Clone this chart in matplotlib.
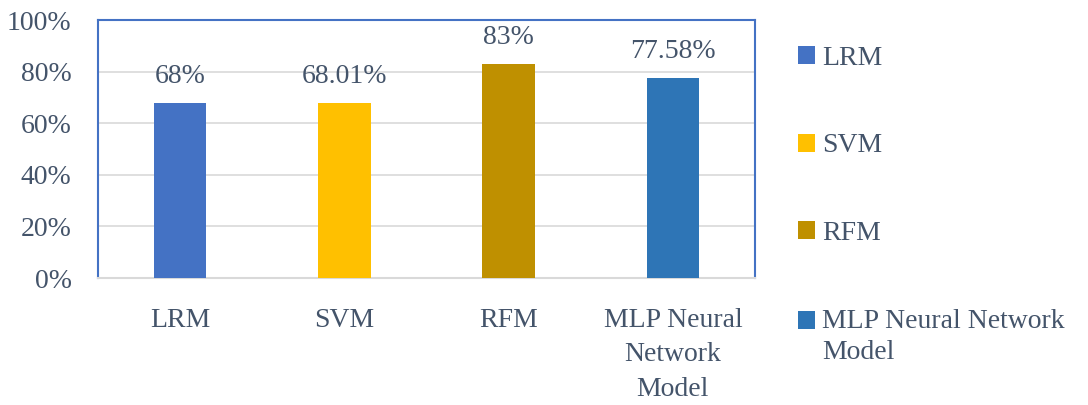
import matplotlib.pyplot as plt
from matplotlib.patches import Patch, Rectangle
from matplotlib.legend_handler import HandlerPatch

# 数据
categories = ['LRM', 'SVM', 'RFM', 'MLP Neural Network Model']
tick_labels = ['LRM', 'SVM', 'RFM', 'MLP Neural\nNetwork\nModel']
legend_labels = ['LRM', 'SVM', 'RFM', 'MLP Neural Network\nModel']
accuracy = [68, 68.01, 83, 77.58]
value_labels = ['68%', '68.01%', '83%', '77.58%']
colors = ['#4472C4', '#FFC000', '#BF9000', '#2E75B6']

plt.rcParams['font.family'] = ['Liberation Serif', 'DejaVu Serif']
txt_color = '#44546A'
fs = 20


# 多行图例：方块与第一行对齐
class FirstLineSquare(HandlerPatch):
    def create_artists(self, legend, orig_handle, xdescent, ydescent,
                       width, height, fontsize, trans):
        p = Rectangle((-xdescent, -ydescent + 0.58 * fontsize), width, height,
                      facecolor=orig_handle.get_facecolor(), transform=trans)
        return [p]


fig = plt.figure(figsize=(10.88, 4.05), dpi=100)
ax = fig.add_axes([98 / 1088, 1 - 278 / 405, (755 - 98) / 1088, (278 - 20) / 405])

x = range(len(categories))
bars = ax.bar(x, accuracy, width=0.32, color=colors, zorder=3)

for xi, v, lab in zip(x, accuracy, value_labels):
    ax.text(xi, v + 5.2, lab, ha='center', va='bottom', fontsize=fs, color=txt_color)

ax.set_xlim(-0.5, len(categories) - 0.5)
ax.set_ylim(0, 100)
ax.set_yticks(range(0, 101, 20))
ax.set_yticklabels([f'{t}%' for t in range(0, 101, 20)])
ax.set_xticks(list(x))
ax.set_xticklabels(tick_labels, va='top', linespacing=1.5)
ax.tick_params(length=0, labelsize=fs, labelcolor=txt_color)
ax.tick_params(axis='x', pad=21.5)
ax.tick_params(axis='y', pad=19)
ax.grid(axis='y', color='#D9D9D9', linewidth=1.2, zorder=0)

for side in ['left', 'top', 'right']:
    ax.spines[side].set_color('#4472C4')
    ax.spines[side].set_linewidth(1.5)
ax.spines['bottom'].set_color('#D9D9D9')
ax.spines['bottom'].set_linewidth(1.5)

handles = [Patch(facecolor=c) for c in colors]
leg = fig.legend(handles, legend_labels, loc='upper left',
                 bbox_to_anchor=(798 / 1088, 1 - 46 / 405),
                 frameon=False, fontsize=fs, labelcolor=txt_color,
                 handlelength=0.62, handleheight=0.62, handletextpad=0.25,
                 labelspacing=2.25, borderpad=0, borderaxespad=0,
                 handler_map={handles[-1]: FirstLineSquare()})
for t in leg.get_texts():
    t.set_linespacing(1.35)

plt.savefig('out.png', dpi=100)
